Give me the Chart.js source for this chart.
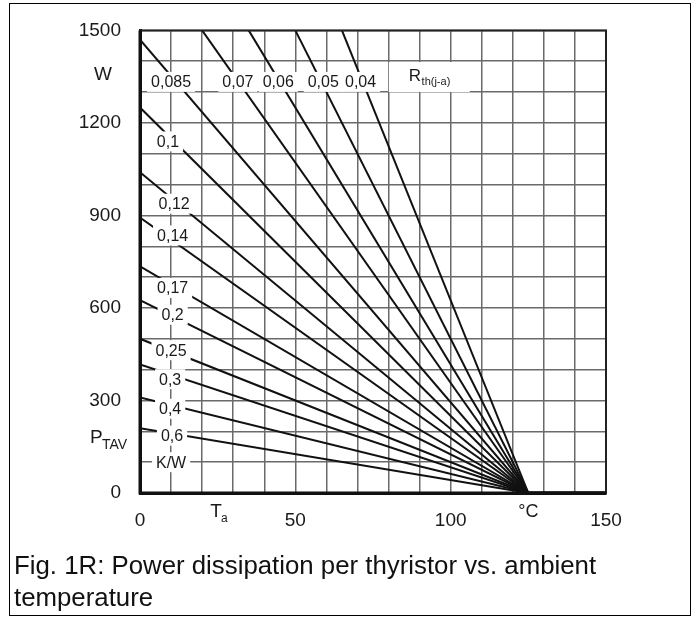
<!DOCTYPE html>
<html>
<head>
<meta charset="utf-8">
<script src="https://cdn.jsdelivr.net/npm/chart.js@4.4.1/dist/chart.umd.min.js"></script>
<style>
  html, body { margin: 0; padding: 0; background: #fff; }
  #wrap { position: relative; width: 696px; height: 617px; overflow: hidden; }
  #c { position: absolute; left: 0; top: 0; }
  #frame { position: absolute; left: 9px; top: 3px; width: 680px; height: 611px; border: 1px solid #000; pointer-events: none; }
  #caption { position: absolute; left: 14px; top: 549px; font: 25.8px "Liberation Sans", Arial, sans-serif; line-height: 32px; color: #111; white-space: nowrap; }
</style>
</head>
<body>
<div id="wrap">
  <canvas id="c" width="696" height="617"></canvas>
  <div id="frame"></div>
  <div id="caption">Fig. 1R: Power dissipation per thyristor vs. ambient<br>temperature</div>
</div>
<script>
// Thermal resistance curves R_th(j-a): each is a straight line from a start point to (125 °C, 0 W)
const rthNames   = ['0,04', '0,05', '0,06', '0,07', '0,085', '0,1', '0,12', '0,14', '0,17', '0,2', '0,25', '0,3', '0,4', '0,6'];
const startTa    = [65, 50, 35, 20, 0, 0, 0, 0, 0, 0, 0, 0, 0, 0];            // °C
const startP     = [1500, 1500, 1500, 1500, 1470, 1250, 1040, 893, 735, 625, 500, 417, 310, 210]; // W
const endTa      = 125;   // °C
const endP       = 0;     // W
const tailTa     = [125, 150];
const tailP      = [0, 0];

// Curve labels (in data units)
const labelText = ['0,085', '0,07', '0,06', '0,05', '0,04', '0,1', '0,12', '0,14', '0,17', '0,2', '0,25', '0,3', '0,4', '0,6', 'K/W'];
const labelTa   = [10, 31.5, 44.5, 59, 71, 9, 11, 10.5, 10.5, 10.5, 10, 9.7, 9.7, 10.3, 10];
const labelP    = [1333, 1333, 1333, 1333, 1333, 1140, 938, 835, 665, 578, 463, 369, 273, 186, 100];

const xTickLabels = [0, 50, 100, 150];
const yTickLabels = [0, 300, 600, 900, 1200, 1500];

const FONT = '"Liberation Sans", Arial, sans-serif';
const TXT = '#1a1a1a';
const GRID = '#6a6a6a';

const datasets = rthNames.map((n, i) => ({
  label: n,
  data: [{x: startTa[i], y: startP[i]}, {x: endTa, y: endP}],
  showLine: true, borderColor: '#111', borderWidth: 2, pointRadius: 0, fill: false
}));
datasets.push({
  label: 'tail',
  data: tailTa.map((t, i) => ({x: t, y: tailP[i]})),
  showLine: true, borderColor: '#111', borderWidth: 3.5, pointRadius: 0, fill: false
});

const annot = {
  id: 'annot',
  afterDatasetsDraw(chart) {
    const {ctx, chartArea: a, scales: {x, y}} = chart;
    ctx.save();
    // plot frame
    ctx.strokeStyle = '#222';
    ctx.lineWidth = 2;
    ctx.strokeRect(a.left, a.top, a.right - a.left, a.bottom - a.top);
    ctx.strokeStyle = '#111';
    ctx.lineWidth = 3;
    ctx.beginPath();
    ctx.moveTo(a.left, a.top); ctx.lineTo(a.left, a.bottom); ctx.lineTo(a.right, a.bottom);
    ctx.stroke();

    // curve labels with white boxes
    ctx.font = '16px ' + FONT;
    ctx.textAlign = 'center';
    ctx.textBaseline = 'middle';
    labelText.forEach((t, i) => {
      const px = x.getPixelForValue(labelTa[i]);
      const py = y.getPixelForValue(labelP[i]);
      const w = ctx.measureText(t).width + 8;
      ctx.fillStyle = '#fff';
      ctx.fillRect(px - w / 2, py - 10, w, 20);
      ctx.fillStyle = TXT;
      ctx.fillText(t, px, py + 1);
    });

    // R_th(j-a)
    const rx = x.getPixelForValue(88.5), ry = y.getPixelForValue(1352);
    ctx.font = '17px ' + FONT;
    const rw = ctx.measureText('R').width;
    ctx.font = '11px ' + FONT;
    const sw = ctx.measureText('th(j-a)').width;
    ctx.fillStyle = '#fff';
    ctx.fillRect(rx - rw / 2 - 20, ry - 14, rw + sw + 40, 30);
    ctx.fillStyle = TXT;
    ctx.textAlign = 'left';
    ctx.font = '17px ' + FONT;
    ctx.fillText('R', rx - rw / 2, ry);
    ctx.font = '11px ' + FONT;
    ctx.fillText('th(j-a)', rx + rw / 2 + 0.5, ry + 6);
    ctx.restore();
  },
  afterDraw(chart) {
    const {ctx, chartArea: a, scales: {x, y}} = chart;
    ctx.save();
    ctx.fillStyle = TXT;
    ctx.textBaseline = 'middle';
    // W
    ctx.textAlign = 'center';
    ctx.font = '19px ' + FONT;
    ctx.fillText('W', a.left - 37, y.getPixelForValue(1355));
    // P_TAV
    const py = y.getPixelForValue(178);
    ctx.textAlign = 'left';
    ctx.font = '19px ' + FONT;
    ctx.fillText('P', a.left - 50, py);
    ctx.font = '14px ' + FONT;
    ctx.fillText('TAV', a.left - 38, py + 7);
    // T_a
    const tx = x.getPixelForValue(24.5);
    ctx.font = '19px ' + FONT;
    ctx.textAlign = 'center';
    ctx.fillText('T', tx, a.bottom + 19);
    ctx.font = '12px ' + FONT;
    ctx.textAlign = 'left';
    ctx.fillText('a', tx + 5, a.bottom + 26);
    // °C
    ctx.font = '18px ' + FONT;
    ctx.textAlign = 'center';
    ctx.fillText('°C', x.getPixelForValue(125), a.bottom + 19);
    ctx.restore();
  }
};

new Chart(document.getElementById('c'), {
  type: 'scatter',
  data: { datasets },
  options: {
    responsive: false,
    animation: false,
    devicePixelRatio: 1,
    layout: { padding: { left: 0, right: 90, top: 26, bottom: 0 } },
    plugins: { legend: { display: false }, tooltip: { enabled: false } },
    scales: {
      x: {
        type: 'linear', min: 0, max: 150,
        afterFit(s) { s.height = 124; },
        ticks: {
          stepSize: 10, autoSkip: false, maxRotation: 0, padding: 16,
          color: TXT, font: { family: FONT, size: 19 },
          callback: v => xTickLabels.includes(v) ? String(v) : ''
        },
        grid: { color: GRID, lineWidth: 1.5, drawTicks: false },
        border: { color: '#111', width: 3 }
      },
      y: {
        type: 'linear', min: 0, max: 1500,
        afterFit(s) { s.width = 140; },
        ticks: {
          stepSize: 100, autoSkip: false, padding: 19,
          color: TXT, font: { family: FONT, size: 19 },
          callback: v => yTickLabels.includes(v) ? String(v) : ''
        },
        grid: { color: GRID, lineWidth: 1.5, drawTicks: false },
        border: { color: '#111', width: 3 }
      }
    }
  },
  plugins: [annot]
});
</script>
</body>
</html>
